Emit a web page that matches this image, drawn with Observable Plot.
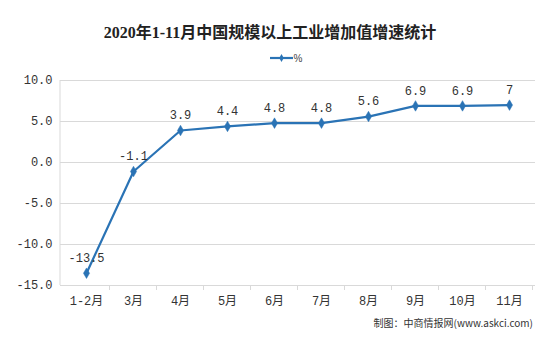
<!DOCTYPE html>
<html>
<head>
<meta charset="utf-8">
<script src="https://cdn.jsdelivr.net/npm/d3@7"></script>
<script src="https://cdn.jsdelivr.net/npm/@observablehq/plot@0.6"></script>
<style>
  html, body { margin: 0; padding: 0; background: #fff; }
  #chart { width: 548px; height: 357px; }
</style>
</head>
<body>
<div id="chart"></div>
<script>
const months = ["1-2月", "3月", "4月", "5月", "6月", "7月", "8月", "9月", "10月", "11月"];
const values = [-13.5, -1.1, 3.9, 4.4, 4.8, 4.8, 5.6, 6.9, 6.9, 7];
const valueLabels = ["-13.5", "-1.1", "3.9", "4.4", "4.8", "4.8", "5.6", "6.9", "6.9", "7"];
const yTicks = [-15, -10, -5, 0, 5, 10];
const titleText = "2020年1-11月中国规模以上工业增加值增速统计";
const seriesName = "%";
const sourceText = "制图：中商情报网(www.askci.com)";

const data = months.map((m, i) => ({month: m, value: values[i], label: valueLabels[i]}));

const lineColor = "#2a73b5";
const gridColor = "#d9d9d9";
const labelFont = "'Liberation Mono', 'Noto Sans CJK SC', monospace";

const W = 548, H = 357;
const mLeft = 60, mRight = 13, mTop = 80, mBottom = 72;

const chart = Plot.plot({
  width: W,
  height: H,
  marginLeft: mLeft,
  marginRight: mRight,
  marginTop: mTop,
  marginBottom: mBottom,
  style: {fontFamily: labelFont, fontSize: "11.5px", color: "#333", background: "#fff"},
  x: {type: "point", domain: months, padding: 0.5, label: null},
  y: {domain: [-15, 10], label: null},
  marks: [
    Plot.gridY(yTicks, {stroke: gridColor, strokeOpacity: 1}),
    Plot.axisY({ticks: yTicks, tickFormat: d => d.toFixed(1), tickSize: 0, tickPadding: 8, label: null, fontSize: 12}),
    Plot.axisX({tickSize: 0, tickPadding: 11, label: null, fontSize: 12}),
    Plot.line(data, {x: "month", y: "value", stroke: lineColor, strokeWidth: 2.2}),
    Plot.dot(data, {x: "month", y: "value", symbol: "diamond", r: 3.2, fill: lineColor, stroke: lineColor, strokeWidth: 0.5}),
    Plot.text(data, {x: "month", y: "value", text: "label", dy: -15, fontSize: 12, fill: "#333"})
  ]
});

document.getElementById("chart").appendChild(chart);

const svg = d3.select(chart);
const xs = chart.scale("x");
const ys = chart.scale("y");
const step = xs.step;

// left axis line
svg.append("line")
  .attr("x1", mLeft).attr("x2", mLeft)
  .attr("y1", ys.apply(10)).attr("y2", ys.apply(-15))
  .attr("stroke", gridColor).attr("stroke-width", 1);

// category boundary ticks
const bounds = months.map(m => xs.apply(m) + step / 2);
bounds.forEach(bx => {
  svg.append("line")
    .attr("x1", bx).attr("x2", bx)
    .attr("y1", ys.apply(-15)).attr("y2", ys.apply(-15) + 5)
    .attr("stroke", gridColor).attr("stroke-width", 1);
});

// title
svg.append("text")
  .attr("x", 270).attr("y", 38)
  .attr("text-anchor", "middle")
  .attr("font-family", "'Liberation Serif', 'Noto Sans CJK SC', serif")
  .attr("font-weight", "bold")
  .attr("font-size", 16)
  .attr("fill", "#222")
  .text(titleText);

// legend
const lg = svg.append("g");
lg.append("line").attr("x1", 270).attr("x2", 293).attr("y1", 58).attr("y2", 58)
  .attr("stroke", lineColor).attr("stroke-width", 2.2);
lg.append("path").attr("d", d3.symbol(d3.symbolDiamond, 18)()).attr("transform", "translate(281.5,58)")
  .attr("fill", lineColor);
lg.append("text").attr("x", 298).attr("y", 61.5)
  .attr("font-family", "'Liberation Sans', sans-serif").attr("font-size", 10).attr("fill", "#444")
  .text(seriesName);

// source caption
svg.append("text")
  .attr("x", 533).attr("y", 327)
  .attr("text-anchor", "end")
  .attr("font-family", "'Noto Sans CJK SC', 'Liberation Sans', sans-serif")
  .attr("font-size", 10)
  .attr("fill", "#333")
  .text(sourceText);
</script>
</body>
</html>
